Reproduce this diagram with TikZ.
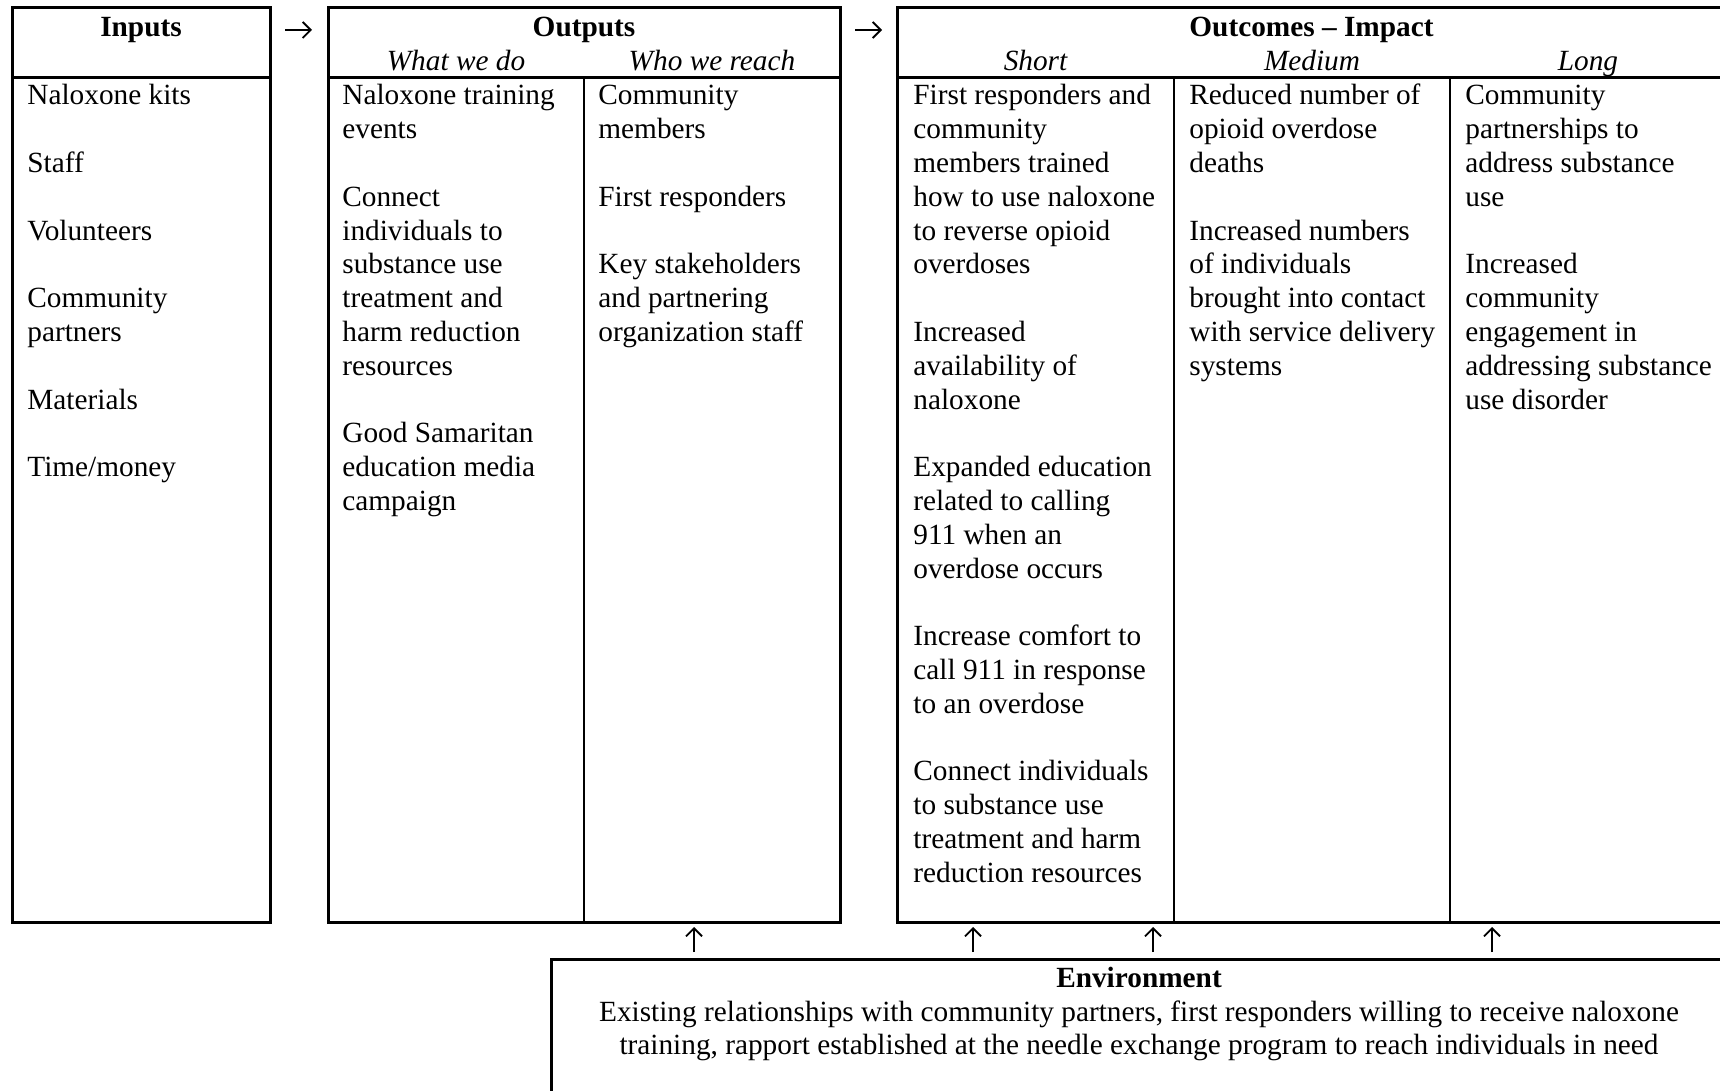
\documentclass[tikz,border=0pt]{standalone}
\usepackage{fontspec}
\setmainfont{Liberation Serif}
\usetikzlibrary{arrows.meta}

\begin{document}
\begin{tikzpicture}[x=0.5pt, y=-0.5pt,
    txt/.style={inner sep=0pt, font=\fontsize{14.65}{16.9}\selectfont},
    colhead/.style={txt, anchor=base, font=\fontsize{14.65}{16.9}\selectfont\bfseries},
    colsub/.style={txt, anchor=base, font=\fontsize{14.65}{16.9}\selectfont\itshape},
    colbody/.style={txt, anchor=base west},
    frame/.style={draw=black, line width=1.5pt},
    divider/.style={draw=black, line width=1.1pt},
    flowarrow/.style={line width=0.9pt, -{Straight Barb[length=4pt, width=8pt]}}]
    \useasboundingbox (0,0) rectangle (1720,1091);

    % boxes
    \draw[frame] (12,8) rectangle (270,922);
    \draw[frame] (12,78) -- (270,78);
    \draw[frame] (328,8) rectangle (840,922);
    \draw[frame] (328,78) -- (840,78);
    \draw[divider] (584,78) -- (584,922);
    \draw[frame] (897,8) rectangle (1726,922);
    \draw[frame] (897,78) -- (1726,78);
    \draw[divider] (1174,78) -- (1174,922);
    \draw[divider] (1450,78) -- (1450,922);
    \draw[frame] (551,959) rectangle (1726,1110);

    % headings
    \node[colhead] (in-head) at (141,37) {Inputs};
    \node[colhead] (out-head) at (584,37) {Outputs};
    \node[colsub] (out-do) at (456,71) {What we do};
    \node[colsub] (out-reach) at (712,71) {Who we reach};
    \node[colhead] (oc-head) at (1311.5,37) {Outcomes -- Impact};
    \node[colsub] (oc-short) at (1035.5,71) {Short};
    \node[colsub] (oc-medium) at (1312,71) {Medium};
    \node[colsub] (oc-long) at (1588,71) {Long};

    % columns
    \node[colbody] (in-list) at (27,105) {\begin{tabular}[t]{@{}l@{}}Naloxone kits\\ \\Staff\\ \\Volunteers\\ \\Community\\partners\\ \\Materials\\ \\Time/money\end{tabular}};
    \node[colbody] (out-do-list) at (342,105) {\begin{tabular}[t]{@{}l@{}}Naloxone training\\events\\ \\Connect\\individuals to\\substance use\\treatment and\\harm reduction\\resources\\ \\Good Samaritan\\education media\\campaign\end{tabular}};
    \node[colbody] (out-reach-list) at (598,105) {\begin{tabular}[t]{@{}l@{}}Community\\members\\ \\First responders\\ \\Key stakeholders\\and partnering\\organization staff\end{tabular}};
    \node[colbody] (oc-short-list) at (913,105) {\begin{tabular}[t]{@{}l@{}}First responders and\\community\\members trained\\how to use naloxone\\to reverse opioid\\overdoses\\ \\Increased\\availability of\\naloxone\\ \\Expanded education\\related to calling\\911 when an\\overdose occurs\\ \\Increase comfort to\\call 911 in response\\to an overdose\\ \\Connect individuals\\to substance use\\treatment and harm\\reduction resources\end{tabular}};
    \node[colbody] (oc-medium-list) at (1189,105) {\begin{tabular}[t]{@{}l@{}}Reduced number of\\opioid overdose\\deaths\\ \\Increased numbers\\of individuals\\brought into contact\\with service delivery\\systems\end{tabular}};
    \node[colbody] (oc-long-list) at (1465,105) {\begin{tabular}[t]{@{}l@{}}Community\\partnerships to\\address substance\\use\\ \\Increased\\community\\engagement in\\addressing substance\\use disorder\end{tabular}};

    % environment
    \node[colhead] (env-head) at (1139,987) {Environment};
    \node[txt, anchor=base] (env-text) at (1139,1021) {\begin{tabular}[t]{@{}c@{}}Existing relationships with community partners, first responders willing to receive naloxone\\training, rapport established at the needle exchange program to reach individuals in need\end{tabular}};

    % arrows
    \coordinate (io-a) at (285,30);
    \coordinate (io-b) at (312,30);
    \coordinate (oo-a) at (855,30);
    \coordinate (oo-b) at (882,30);
    \draw[flowarrow] (io-a) -- (io-b);
    \draw[flowarrow] (oo-a) -- (oo-b);
    \foreach \x [count=\i] in {694,973,1153,1492} {
        \coordinate (up\i-a) at (\x,952);
        \coordinate (up\i-b) at (\x,927);
        \draw[flowarrow] (up\i-a) -- (up\i-b);
    }
\end{tikzpicture}
\end{document}
